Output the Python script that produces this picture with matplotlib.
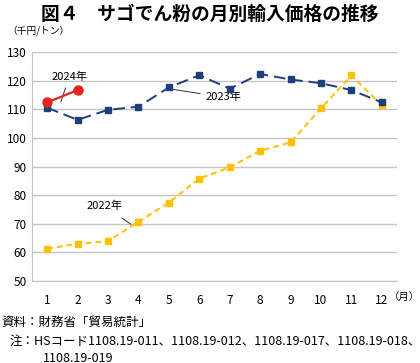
import matplotlib.pyplot as plt

plt.rcParams['font.family'] = ['Noto Sans CJK JP', 'DejaVu Sans']

months = list(range(1, 13))
y2022 = [61.3, 63.0, 63.9, 70.7, 77.4, 85.8, 89.7, 95.5, 98.4, 110.3, 121.8, 111.5]
y2023 = [110.5, 106.3, 109.8, 110.9, 117.6, 121.9, 117.2, 122.3, 120.4, 119.1, 116.7, 112.4]
months_2024 = [1, 2]
y2024 = [112.4, 116.7]

fig = plt.figure(figsize=(4.2, 3.63), dpi=100)
ax = fig.add_axes([32 / 420, 1 - 281 / 363, 365 / 420, 229 / 363])

ax.plot(months, y2022, color='#FFC000', lw=1.4, ls=(0, (3, 2)), marker='s', ms=5, zorder=3)
ax.plot(months, y2023, color='#1F3F7A', lw=1.4, ls=(0, (6, 3)), marker='s', ms=5, zorder=4)
ax.plot(months_2024, y2024, color='#E8231E', lw=1.6, marker='o', ms=6.5, zorder=5)

ax.set_xlim(0.5, 12.5)
ax.set_ylim(50, 130)
ax.set_xticks(months)
ax.set_yticks(range(50, 131, 10))
ax.yaxis.grid(True, color='#c4c4c4', lw=1)
ax.set_axisbelow(True)
for s in ['top', 'right']:
    ax.spines[s].set_visible(False)
ax.spines['left'].set_color('#c4c4c4')
ax.spines['bottom'].set_color('#c4c4c4')
ax.tick_params(length=0, labelsize=8.5, pad=9)
ax.tick_params(axis='y', pad=4)

# labels for series
ax.annotate('2024年', xy=(1.45, 112.6), xytext=(1.72, 121.2), fontsize=8, ha='center', va='center',
            arrowprops=dict(arrowstyle='-', color='#333333', lw=0.7, shrinkB=0))
ax.annotate('2023年', xy=(5.1, 117.0), xytext=(6.8, 114.2), fontsize=8, ha='center', va='center',
            arrowprops=dict(arrowstyle='-', color='#333333', lw=0.7, shrinkA=2, shrinkB=0))
ax.annotate('2022年', xy=(3.75, 69.8), xytext=(2.9, 76.2), fontsize=8, ha='center', va='center',
            arrowprops=dict(arrowstyle='-', color='#333333', lw=0.7, shrinkA=5, shrinkB=0))

fig.text(0.5, 1 - 14 / 363, '図４　サゴでん粉の月別輸入価格の推移', ha='center', va='center',
         fontsize=13.5, fontweight='bold')
fig.text(7 / 420, 1 - 31 / 363, '（千円/トン）', ha='left', va='center', fontsize=7)
fig.text(420 / 420, 1 - 297 / 363, '（月）', ha='right', va='center', fontsize=7.5)
fig.text(1 / 420, 1 - 322 / 363, '資料：財務省「貿易統計」', ha='left', va='center', fontsize=9)
fig.text(10 / 420, 1 - 341 / 363, '注：HSコード1108.19-011、1108.19-012、1108.19-017、1108.19-018、',
         ha='left', va='center', fontsize=9)
fig.text(43 / 420, 1 - 358 / 363, '1108.19-019', ha='left', va='center', fontsize=9)

fig.savefig('out.png', dpi=100)
